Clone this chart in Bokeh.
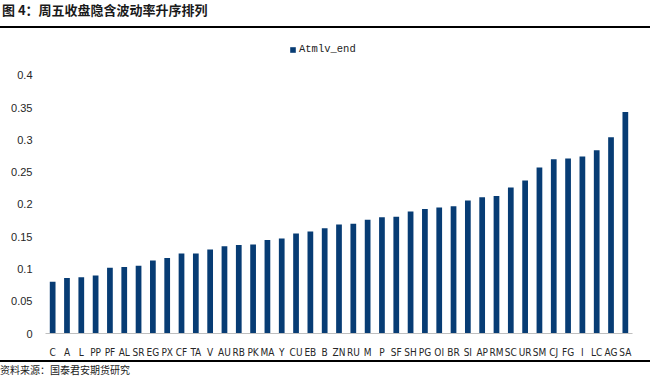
from bokeh.plotting import figure
from bokeh.models import (Div, FactorRange, Range1d, FixedTicker, NumeralTickFormatter,
                          ColumnDataSource)
from bokeh.layouts import column
from bokeh.embed import file_html
from bokeh.resources import INLINE

title_text = "图 4：周五收盘隐含波动率升序排列"
source_text = "资料来源：国泰君安期货研究"
series_name = "Atmlv_end"

categories = ["C", "A", "L", "PP", "PF", "AL", "SR", "EG", "PX", "CF", "TA", "V", "AU", "RB",
              "PK", "MA", "Y", "CU", "EB", "B", "ZN", "RU", "M", "P", "SF", "SH", "PG", "OI",
              "BR", "SI", "AP", "RM", "SC", "UR", "SM", "CJ", "FG", "I", "LC", "AG", "SA"]
values = [0.080, 0.086, 0.087, 0.090, 0.102, 0.103, 0.105, 0.113, 0.117, 0.124, 0.124, 0.130,
          0.135, 0.137, 0.138, 0.145, 0.147, 0.155, 0.158, 0.163, 0.169, 0.170, 0.176, 0.180,
          0.181, 0.189, 0.193, 0.195, 0.197, 0.206, 0.211, 0.213, 0.226, 0.237, 0.257, 0.270,
          0.271, 0.274, 0.284, 0.304, 0.343]
y_ticks = [0, 0.05, 0.1, 0.15, 0.2, 0.25, 0.3, 0.35, 0.4]

BAR = "#073C74"
W = 650

src = ColumnDataSource(dict(cat=categories, val=values))

p = figure(x_range=FactorRange(factors=categories, range_padding=0),
           y_range=Range1d(0, 0.46),
           width=W, height=332, output_backend="svg", toolbar_location=None,
           min_border_left=45, min_border_right=18, min_border_top=8, min_border_bottom=26,
           margin=0)
p.outline_line_color = None
p.xgrid.visible = False
p.ygrid.visible = False

p.vbar(x="cat", top="val", width=0.4, source=src, fill_color=BAR, line_color=None,
       legend_label=series_name)

p.yaxis.ticker = FixedTicker(ticks=y_ticks)
p.yaxis.formatter = NumeralTickFormatter(format="0.[00]")
p.yaxis.axis_line_color = None
p.yaxis.major_tick_line_color = None
p.yaxis.minor_tick_line_color = None
p.yaxis.major_label_standoff = 7
p.yaxis.major_label_text_font = "Liberation Sans"
p.yaxis.major_label_text_font_size = "11px"
p.yaxis.major_label_text_color = "#262626"

p.xaxis.axis_line_color = "#BFBFBF"
p.xaxis.major_tick_line_color = None
p.xaxis.minor_tick_line_color = None
p.xaxis.major_label_standoff = 7
p.xaxis.major_label_text_font = "DejaVu Sans Condensed"
p.xaxis.major_label_text_font_size = "10px"
p.xaxis.major_label_text_color = "#262626"

lg = p.legend[0]
lg.location = (244, 278)
lg.orientation = "horizontal"
lg.background_fill_alpha = 0
lg.border_line_color = None
lg.padding = 0
lg.margin = 0
lg.spacing = 0
lg.glyph_width = 7
lg.glyph_height = 7
lg.label_height = 12
lg.label_standoff = 3
lg.label_text_font = "Liberation Mono"
lg.label_text_font_size = "10.5px"
lg.label_text_color = "#222222"


def rule(h):
    return Div(text="", width=W, height=h, margin=0,
               styles={"background-color": "#000000", "overflow": "hidden"})


title_div = Div(
    text=('<div style="height:26px;line-height:28px;padding-left:2px;'
          'font:bold 13px \'Noto Sans CJK SC\';color:#1a1a1a;white-space:nowrap;">'
          + title_text + '</div>'),
    width=W, height=26, margin=0)
foot_div = Div(
    text=('<div style="height:18px;line-height:16px;'
          'font:10px \'Noto Sans CJK SC\';color:#1a1a1a;white-space:nowrap;">'
          + source_text + '</div>'),
    width=W, height=18, margin=0)

layout = column(title_div, rule(2), p, rule(2), foot_div, spacing=0, margin=0)

with open("out.html", "w") as f:
    f.write(file_html(layout, INLINE))
